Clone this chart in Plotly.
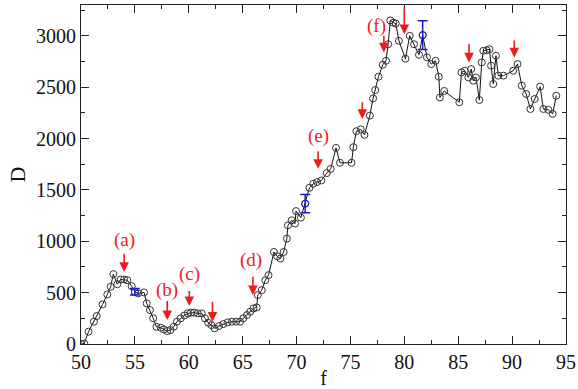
import plotly.graph_objects as go

f_vals = [50.0, 50.3, 50.7, 51.2, 51.46, 52.0, 52.44, 52.75, 53.0, 53.37, 53.68, 54.0, 54.3, 54.7,
          55.0, 55.3, 55.85, 56.1, 56.4, 56.7, 57.0, 57.4, 57.7, 58.0, 58.3, 58.6, 58.9, 59.25,
          59.6, 59.9, 60.2, 60.5, 60.85, 61.2, 61.5, 61.8, 62.1, 62.4, 62.8, 63.2, 63.6, 64.0,
          64.4, 64.75, 65.06, 65.4, 65.7, 66.0, 66.3, 66.4, 66.77, 67.1, 67.4, 67.9, 68.2, 68.5,
          68.8, 69.1, 69.2, 69.55, 69.86, 69.95, 70.4, 70.8, 71.2, 71.55, 71.9, 72.3, 72.8, 73.17,
          73.66, 74.03, 75.1, 75.27, 75.55, 75.95, 76.3, 76.8, 77.1, 77.3, 77.6, 78.0, 78.3, 78.5,
          78.7, 78.98, 79.2, 79.5, 80.1, 80.5, 80.9, 81.36, 81.7, 82.1, 82.5, 82.9, 83.2, 83.3,
          83.7, 85.1, 85.3, 85.6, 85.94, 86.2, 86.4, 86.65, 86.96, 87.18, 87.33, 87.65, 87.9,
          88.05, 88.25, 88.5, 88.72, 89.2, 90.1, 90.5, 90.9, 91.3, 91.7, 92.1, 92.6, 92.9, 93.36,
          93.76, 94.1]
D_vals = [0, 5, 120, 217, 272, 385, 482, 557, 680, 582, 628, 628, 621, 563,
          508, 492, 502, 395, 330, 250, 168, 158, 142, 126, 136, 168, 217, 250,
          278, 298, 305, 305, 298, 298, 250, 207, 184, 152, 175, 194, 210, 217,
          217, 217, 250, 282, 314, 346, 356, 476, 524, 621, 670, 896, 854, 832,
          896, 1026, 1155, 1204, 1172, 1294, 1230, 1366, 1521, 1560, 1576, 1592, 1663, 1705,
          1909, 1764, 1764, 1916, 2071, 2090, 2036, 2223, 2391, 2472, 2602, 2718, 2757, 2918,
          3150, 3129, 3119, 2951, 2777, 3000, 2918, 2815, 3007, 2790, 2725, 2757, 2602, 2400,
          2463, 2353, 2644, 2660, 2595, 2676, 2563, 2595, 2375, 2741, 2854, 2860, 2870,
          2709, 2531, 2806, 2612, 2612, 2660, 2725, 2515, 2434, 2288, 2385, 2505, 2288, 2280,
          2240, 2417]

err_f = [55.0, 70.8, 81.7]
err_D = [508, 1366, 3007]
err_size = [32, 89, 139]

arrow_f = [54.0, 58.0, 60.05, 62.2, 65.95, 72.0, 76.1, 78.1, 80.0, 86.0, 90.2]
arrow_tail = [890, 434, 531, 427, 670, 1890, 2369, 3016, 3291, 2935, 2968]
arrow_tip = [702, 233, 369, 217, 476, 1706, 2191, 2838, 3016, 2741, 2790]

label_text = ['(a)', '(b)', '(c)', '(d)', '(e)', '(f)']
label_f = [54.0, 58.0, 60.05, 65.8, 72.0, 77.4]
label_D = [1010, 524, 677, 816, 2029, 3097]

x_ticks = [50, 55, 60, 65, 70, 75, 80, 85, 90, 95]
y_ticks = [0, 500, 1000, 1500, 2000, 2500, 3000]

SERIF = "Liberation Serif, Times New Roman, serif"
RED = "#ee1c1c"

fig = go.Figure()
fig.add_trace(go.Scatter(
    x=f_vals, y=D_vals, mode="lines+markers",
    line=dict(color="#111111", width=1),
    marker=dict(symbol="circle-open", size=7, color="#333333", line=dict(width=1)),
    showlegend=False,
))
fig.add_trace(go.Scatter(
    x=err_f, y=err_D, mode="markers",
    marker=dict(symbol="circle-open", size=7, color="#2222cc", line=dict(width=1)),
    error_y=dict(type="data", array=err_size, color="#1a1acc", thickness=1.5, width=5),
    showlegend=False,
))

annotations = []
for fx, t0, t1 in zip(arrow_f, arrow_tail, arrow_tip):
    annotations.append(dict(
        x=fx, y=t1, ax=fx, ay=t0, xref="x", yref="y", axref="x", ayref="y",
        showarrow=True, arrowhead=2, arrowsize=1.2, arrowwidth=1.6, arrowcolor=RED,
        standoff=0, startstandoff=0, text="",
    ))
for txt, fx, dy in zip(label_text, label_f, label_D):
    annotations.append(dict(
        x=fx, y=dy, xref="x", yref="y", text=txt, showarrow=False,
        font=dict(family=SERIF, size=19, color=RED),
    ))

axis_common = dict(
    showline=True, linecolor="#222222", linewidth=1, mirror="ticks",
    ticks="inside", ticklen=8, tickwidth=1, tickcolor="#222222",
    showgrid=False, zeroline=False, automargin=False,
    tickfont=dict(family=SERIF, size=20, color="#111111"),
)

fig.update_layout(
    width=578, height=389,
    margin=dict(l=81, r=12, t=5, b=45),
    paper_bgcolor="white", plot_bgcolor="white",
    annotations=annotations,
    xaxis=dict(range=[50, 95], tickvals=x_ticks,
               minor=dict(dtick=2.5, tick0=50, ticks="inside", ticklen=4, tickcolor="#222222"),
               title=dict(text="f", font=dict(family=SERIF, size=20, color="#111111"), standoff=2),
               **axis_common),
    yaxis=dict(range=[0, 3300], tickvals=y_ticks,
               minor=dict(dtick=250, tick0=0, ticks="inside", ticklen=4, tickcolor="#222222"),
               title=dict(text="D", font=dict(family=SERIF, size=22, color="#111111"), standoff=4),
               **axis_common),
)

fig.write_html("out.html", config={"displayModeBar": False},
               post_script="document.body.style.margin='0';document.body.style.overflow='hidden';")
